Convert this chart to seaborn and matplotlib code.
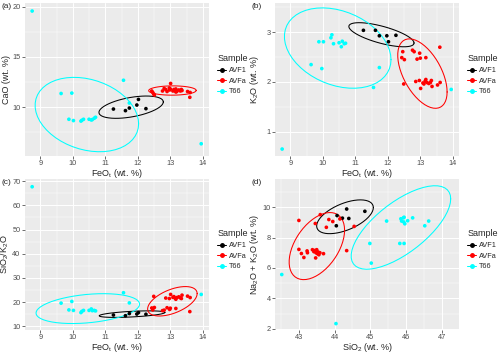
"""
Four-panel oxide scatter with t-ellipses per sample (ggplot look)
"""

import numpy as np
import pandas as pd
import seaborn as sns
import matplotlib.pyplot as plt
from matplotlib.lines import Line2D
from matplotlib.ticker import AutoMinorLocator

# ---- data ----
samples = ['AVF1', 'AVFa', 'T66']
colors = {'AVF1': '#000000', 'AVFa': '#FF0000', 'T66': '#00FFFF'}

# FeOt is shared by panels a, b, c
avf1_feo = [11.25, 11.62, 11.74, 11.97, 12.02, 12.25]
avf1_cao = [9.80, 9.64, 9.90, 10.20, 10.76, 9.84]
avf1_k2o = [3.04, 3.04, 2.93, 2.93, 2.81, 2.94]
avf1_ratio = [14.7, 14.4, 15.3, 15.1, 15.7, 15.0]

avfa_feo = [12.46, 12.43, 12.51, 12.49, 12.76, 12.81, 12.98, 12.90, 13.00, 13.17,
            13.60, 12.86, 12.97, 13.01, 13.08, 13.11, 13.15, 13.17, 13.20, 13.26,
            13.31, 13.34, 13.36, 13.53, 13.61]
avfa_cao = [11.45, 11.60, 11.20, 11.30, 11.60, 11.85, 11.70, 11.55, 11.80, 11.50,
            10.97, 11.75, 11.90, 12.35, 11.60, 11.75, 11.65, 11.80, 11.55, 11.70,
            11.60, 11.75, 11.65, 11.55, 11.45]
avfa_k2o = [2.61, 2.49, 2.45, 1.96, 2.64, 2.61, 2.58, 2.46, 2.48, 2.49,
            2.70, 2.01, 2.03, 1.87, 1.98, 1.96, 2.02, 2.05, 1.99, 1.97,
            1.99, 2.03, 1.91, 1.94, 1.99]
avfa_ratio = [16.8, 17.6, 17.8, 22.4, 16.5, 16.7, 17.0, 17.7, 17.5, 17.4,
              16.1, 21.7, 21.5, 23.2, 22.0, 22.3, 21.6, 21.2, 21.9, 22.2,
              21.8, 21.5, 22.9, 22.5, 21.9]

t66_feo = [8.75, 9.64, 9.88, 9.97, 10.02, 10.25, 10.28, 10.33, 10.50, 10.57,
           10.60, 10.66, 10.70, 11.56, 11.74, 13.95]
t66_cao = [19.57, 11.35, 8.78, 11.39, 8.65, 8.60, 8.68, 8.78, 8.78, 8.71,
           8.75, 8.88, 8.98, 12.67, 10.40, 6.34]
t66_k2o = [0.65, 2.35, 2.81, 2.27, 2.81, 2.89, 2.95, 2.77, 2.79, 2.71,
           2.82, 2.77, 2.78, 1.89, 2.29, 1.85]
t66_ratio = [67.7, 19.6, 16.8, 20.3, 16.6, 15.7, 16.2, 16.6, 16.6, 17.2,
             16.5, 16.6, 16.4, 23.9, 19.7, 23.2]

# panel d: SiO2 vs total alkalis
avf1_sio2 = [44.34, 44.07, 44.22, 44.40, 44.05, 44.85]
avf1_nak = [9.87, 9.44, 9.27, 9.25, 8.77, 9.72]
avfa_sio2 = [43.00, 43.60, 43.46, 43.84, 43.95, 43.77, 44.15, 44.55, 44.34, 43.00,
             43.07, 43.14, 43.23, 43.24, 43.38, 43.42, 43.45, 43.48, 43.50, 43.47,
             43.52, 43.56, 43.59, 43.69, 43.54]
avfa_nak = [9.12, 9.50, 8.92, 9.18, 9.05, 8.67, 9.22, 8.73, 7.14, 7.22,
            6.95, 6.69, 7.12, 7.00, 7.20, 7.07, 7.15, 7.00, 7.20, 6.66,
            6.94, 6.87, 7.00, 6.94, 7.05]
t66_sio2 = [42.52, 44.04, 44.99, 45.03, 45.46, 45.86, 45.88, 45.93, 45.95, 45.94,
            45.97, 46.05, 46.19, 46.53, 46.64, 45.83, 45.95]
t66_nak = [5.57, 2.35, 7.61, 6.32, 9.08, 9.23, 9.08, 9.29, 9.33, 9.02,
           8.90, 9.10, 9.29, 8.77, 9.08, 7.61, 7.61]


def make_frame(xs, ys):
    rows = []
    for s, x, y in zip(samples, xs, ys):
        rows.append(pd.DataFrame({'x': x, 'y': y, 'Sample': s}))
    return pd.concat(rows, ignore_index=True)


def cov_trob(x, nu=5, maxit=25, tol=0.01):
    # same idea as MASS::cov.trob used by ggplot's stat_ellipse
    n, p = x.shape
    loc = x.mean(axis=0)
    w = np.ones(n)
    for _ in range(maxit):
        w0 = w
        X = x - loc
        _, d, vt = np.linalg.svd(np.sqrt(w / w.sum())[:, None] * X, full_matrices=False)
        wX = X @ vt.T / d
        Q = (wX ** 2).sum(axis=1)
        w = (nu + p) / (nu + Q)
        loc = (w[:, None] * x).sum(axis=0) / w.sum()
        if np.all(np.abs(w - w0) < tol):
            break
    sX = np.sqrt(w)[:, None] * X
    return loc, sX.T @ sX / n


def ellipse(x, y, level=0.95, segments=51):
    pts = np.column_stack([x, y])
    center, shape = cov_trob(pts)
    m = len(pts) - 1
    fq = m / 2 * ((1 - level) ** (-2 / m) - 1)
    radius = np.sqrt(2 * fq)
    ang = np.linspace(0, 2 * np.pi, segments + 1)
    circle = np.column_stack([np.cos(ang), np.sin(ang)])
    L = np.linalg.cholesky(shape)
    return center + radius * circle @ L.T


sns.set_theme(style='darkgrid')
plt.rcParams['font.family'] = ['Liberation Sans', 'DejaVu Sans']
plt.rcParams['mathtext.default'] = 'regular'
plt.rcParams['axes.facecolor'] = '#EBEBEB'

fig = plt.figure(figsize=(5.0, 3.54), dpi=100)
W, H = 500, 354

# tag, (left, top) px, x data, y data, labels, limits, ticks, panel height px
panels = [
    ('(a)', (25, 3), [avf1_feo, avfa_feo, t66_feo], [avf1_cao, avfa_cao, t66_cao],
     'FeO$_t$ (wt. %)', 'CaO (wt. %)', (8.53, 14.19), (5.12, 20.37),
     [9, 10, 11, 12, 13, 14], [10, 15, 20], 153),
    ('(b)', (275, 3), [avf1_feo, avfa_feo, t66_feo], [avf1_k2o, avfa_k2o, t66_k2o],
     'FeO$_t$ (wt. %)', 'K$_2$O (wt. %)', (8.53, 14.19), (0.51, 3.59),
     [9, 10, 11, 12, 13, 14], [1, 2, 3], 153),
    ('(c)', (25, 179), [avf1_feo, avfa_feo, t66_feo], [avf1_ratio, avfa_ratio, t66_ratio],
     'FeO$_t$ (wt. %)', 'SiO$_2$/K$_2$O', (8.53, 14.19), (8.5, 70.9),
     [9, 10, 11, 12, 13, 14], [10, 20, 30, 40, 50, 60, 70], 151),
    ('(d)', (275, 179), [avf1_sio2, avfa_sio2, t66_sio2], [avf1_nak, avfa_nak, t66_nak],
     'SiO$_2$ (wt. %)', 'Na$_2$O + K$_2$O (wt. %)', (42.33, 47.49), (1.93, 11.84),
     [43, 44, 45, 46, 47], [2, 4, 6, 8, 10], 151),
]

for tag, (px, py), xs, ys, xlab, ylab, xlim, ylim, xt, yt, ph in panels:
    ax = fig.add_axes([px / W, 1 - (py + ph) / H, 184 / W, ph / H])
    df = make_frame(xs, ys)

    for s, x, y in zip(samples, xs, ys):
        e = ellipse(np.array(x), np.array(y))
        ax.plot(e[:, 0], e[:, 1], color=colors[s], lw=0.75, zorder=2)

    sns.scatterplot(data=df, x='x', y='y', hue='Sample', palette=colors,
                    s=7, linewidth=0, legend=False, ax=ax, zorder=3)

    ax.set_xlim(xlim)
    ax.set_ylim(ylim)
    ax.set_xticks(xt)
    ax.set_yticks(yt)
    ax.xaxis.set_minor_locator(AutoMinorLocator(2))
    ax.yaxis.set_minor_locator(AutoMinorLocator(2))
    ax.grid(which='major', color='white', lw=0.7)
    ax.grid(which='minor', color='white', lw=0.35)
    for sp in ax.spines.values():
        sp.set_visible(False)
    ax.tick_params(which='major', length=2, width=0.5, color='#333333',
                   labelsize=5.3, labelcolor='#4D4D4D', pad=1.2, bottom=True, left=True)
    ax.tick_params(which='minor', length=0)
    ax.set_xlabel(xlab, fontsize=6.5)
    ax.set_ylabel(ylab, fontsize=6.5)
    ax.xaxis.set_label_coords(0.5, -11.5 / ph)
    ax.yaxis.set_label_coords(-0.074, 0.5)

    fig.text((px - 23) / W, 1 - (py + 4) / H, tag, fontsize=6, va='center', ha='left')

    handles = [Line2D([], [], color=colors[s], marker='o', markersize=2.5, lw=0.75)
               for s in samples]
    leg = ax.legend(handles, samples, title='Sample', loc='center left',
                    bbox_to_anchor=(1.045, 0.53), frameon=False, fontsize=5.2,
                    title_fontsize=6.5, handlelength=1.2, handletextpad=0.45,
                    labelspacing=0.5, borderpad=0, borderaxespad=0)
    leg._legend_box.align = 'left'

fig.savefig('out.png', dpi=100)
